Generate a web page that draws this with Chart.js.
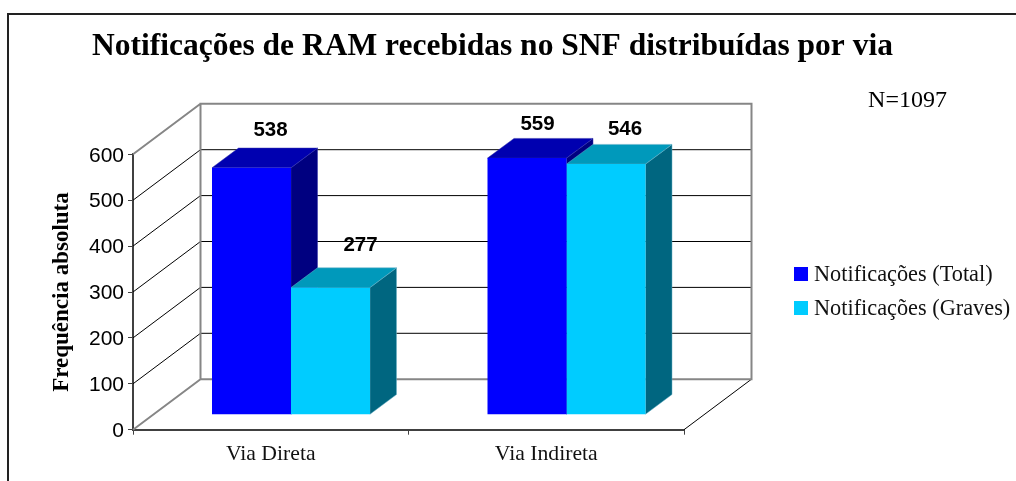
<!DOCTYPE html>
<html>
<head>
<meta charset="utf-8">
<style>html,body{margin:0;padding:0;background:#fff}#w{width:1016px;height:481px;position:relative}</style>
<script src="https://cdn.jsdelivr.net/npm/chart.js@4"></script>
</head>
<body>
<div id="w"><canvas id="c" width="1016" height="481"></canvas></div>
<script>
const categories = ["Via Direta", "Via Indireta"];
const seriesNames = ["Notificações (Total)", "Notificações (Graves)"];
const totalValues = [538, 559];
const graveValues = [277, 546];
const yTicks = [0, 100, 200, 300, 400, 500, 600];
const chartTitle = "Notificações de RAM recebidas no SNF distribuídas por via";
const yTitle = "Frequência absoluta";
const note = "N=1097";

const SERIF = '"Liberation Serif", serif';
const SANS = '"Liberation Sans", Arial, sans-serif';
const WALL = {dx: 67.5, dy: -50.5};
const FLOOR = {dx: 20.25, dy: -15};
const DEPTH = {dx: 26.5, dy: -19.7};
const faces = [
  {front: "#0000FF", top: "#0000B0", side: "#000080", edge: "#3333AA"},
  {front: "#00CCFF", top: "#0099BB", side: "#006680", edge: "#66AEC4"}
];
const labelNudge = [[[0, -1], [-8.5, 2]], [[11, -6], [0, 1]]];

function drawFaces(ctx, meta, c) {
  meta.data.forEach(bar => {
    const p = bar.getProps(["x", "y", "base", "width"], true);
    const l = p.x - p.width / 2, r = p.x + p.width / 2;
    ctx.strokeStyle = c.edge;
    ctx.lineWidth = 0.5;
    ctx.fillStyle = c.side;
    ctx.beginPath();
    ctx.moveTo(r, p.y); ctx.lineTo(r + DEPTH.dx, p.y + DEPTH.dy);
    ctx.lineTo(r + DEPTH.dx, p.base + DEPTH.dy); ctx.lineTo(r, p.base);
    ctx.closePath(); ctx.fill(); ctx.stroke();
    ctx.fillStyle = c.top;
    ctx.beginPath();
    ctx.moveTo(l, p.y); ctx.lineTo(l + DEPTH.dx, p.y + DEPTH.dy);
    ctx.lineTo(r + DEPTH.dx, p.y + DEPTH.dy); ctx.lineTo(r, p.y);
    ctx.closePath(); ctx.fill(); ctx.stroke();
  });
}

const threeD = {
  id: "threeD",
  beforeDatasetsDraw(chart) {
    const {ctx, chartArea: a, scales: {y}} = chart;
    const L = a.left, R = a.right, T = y.getPixelForValue(600), B = y.getPixelForValue(0);
    ctx.save();
    ctx.strokeStyle = "#000"; ctx.lineWidth = 1;
    yTicks.forEach(v => {
      if (v === 0 || v === 600) return;
      const p = y.getPixelForValue(v);
      ctx.beginPath();
      ctx.moveTo(L, p);
      ctx.lineTo(L + WALL.dx, p + WALL.dy);
      ctx.lineTo(R + WALL.dx, p + WALL.dy);
      ctx.stroke();
    });
    ctx.beginPath();
    ctx.moveTo(R, B); ctx.lineTo(R + WALL.dx, B + WALL.dy);
    ctx.stroke();
    ctx.strokeStyle = "#868686"; ctx.lineWidth = 2;
    ctx.beginPath();
    ctx.rect(L + WALL.dx, T + WALL.dy, R - L, B - T);
    ctx.moveTo(L, T); ctx.lineTo(L + WALL.dx, T + WALL.dy);
    ctx.moveTo(L, B); ctx.lineTo(L + WALL.dx, B + WALL.dy);
    ctx.stroke();
    ctx.restore();
  },
  beforeDatasetDraw(chart, args) {
    const {ctx} = chart;
    ctx.save();
    ctx.translate(FLOOR.dx, FLOOR.dy);
    // The library paints the last dataset first: lay every receding face down
    // before any front face, blue faces under the cyan ones.
    if (args.index === 1) {
      drawFaces(ctx, chart.getDatasetMeta(0), faces[0]);
      drawFaces(ctx, chart.getDatasetMeta(1), faces[1]);
    }
  },
  afterDatasetDraw(chart) { chart.ctx.restore(); },
  afterDatasetsDraw(chart) {
    const {ctx} = chart;
    ctx.save();
    ctx.fillStyle = "#000";
    ctx.textAlign = "center"; ctx.textBaseline = "middle";
    ctx.font = "bold 20.5px " + SANS;
    chart.data.datasets.forEach((ds, i) => {
      chart.getDatasetMeta(i).data.forEach((bar, j) => {
        const n = labelNudge[i][j];
        ctx.fillText(String(ds.data[j]), bar.x + FLOOR.dx + 19 + n[0], bar.y + FLOOR.dy - 36 + n[1]);
      });
    });
    ctx.restore();
  },
  afterDraw(chart) {
    const {ctx} = chart;
    ctx.save();
    ctx.strokeStyle = "#222"; ctx.lineWidth = 2;
    ctx.beginPath();
    ctx.moveTo(8, 481); ctx.lineTo(8, 14); ctx.lineTo(1016, 14);
    ctx.stroke();
    ctx.fillStyle = "#000";
    ctx.textBaseline = "alphabetic"; ctx.textAlign = "center";
    ctx.font = "bold 31.5px " + SERIF;
    ctx.fillText(chartTitle, 492.5, 55);
    ctx.font = "24px " + SERIF;
    ctx.fillText(note, 907.5, 106.5);
    ctx.textAlign = "left";
    ctx.font = "22.3px " + SERIF;
    seriesNames.forEach((name, i) => {
      const top = 267 + i * 34;
      ctx.fillStyle = faces[i].front;
      ctx.fillRect(794, top, 14, 14);
      ctx.fillStyle = "#111";
      ctx.fillText(name, 814, top + 13.5);
    });
    ctx.restore();
  }
};

new Chart(document.getElementById("c"), {
  type: "bar",
  data: {
    labels: categories,
    datasets: [
      {label: seriesNames[0], data: totalValues, backgroundColor: faces[0].front, clip: false},
      {label: seriesNames[1], data: graveValues, backgroundColor: faces[1].front, clip: false}
    ]
  },
  options: {
    responsive: false,
    animation: false,
    layout: {padding: {top: 154.3, right: 332, bottom: 0, left: 0}},
    categoryPercentage: 0.5735,
    barPercentage: 1,
    plugins: {legend: {display: false}, title: {display: false}, tooltip: {enabled: false}},
    scales: {
      x: {
        afterFit(s) { s.height = 51.3; },
        grid: {display: true, drawOnChartArea: false, tickLength: 5, color: "#404040", offset: true},
        border: {color: "#404040", width: 2},
        ticks: {color: "#111", font: {family: SERIF, size: 21.7}, padding: 7, maxRotation: 0}
      },
      y: {
        min: 0, max: 600,
        afterFit(s) { s.width = 133; },
        afterBuildTicks(s) { s.ticks = yTicks.map(v => ({value: v})); },
        grid: {display: true, drawOnChartArea: false, tickLength: 5, color: "#404040"},
        border: {color: "#404040", width: 2},
        ticks: {color: "#000", font: {family: SANS, size: 21}, padding: 4, labelOffset: 1.5},
        title: {display: true, text: yTitle, color: "#000", font: {family: SERIF, size: 23, weight: "bold"}, padding: {top: 48.2, bottom: 0}}
      }
    }
  },
  plugins: [threeD]
});
</script>
</body>
</html>
